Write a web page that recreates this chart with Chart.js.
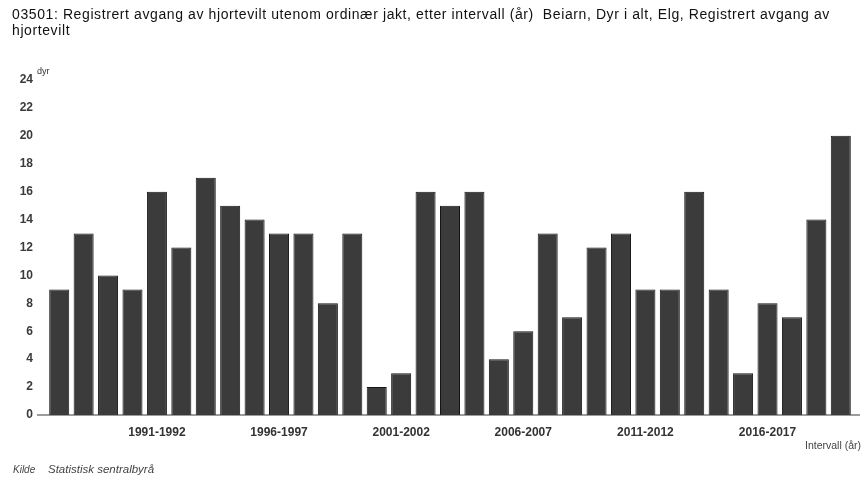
<!DOCTYPE html>
<html>
<head>
<meta charset="utf-8">
<script src="https://cdn.jsdelivr.net/npm/chart.js@4"></script>
<style>
  html, body { margin: 0; padding: 0; background: #fff; }
  #wrap { position: relative; width: 864px; height: 479px; }
</style>
</head>
<body>
<div id="wrap"><canvas id="elgChart" width="864" height="479"></canvas></div>
<script>
const intervals = [
    '1987-1988', '1988-1989', '1989-1990', '1990-1991', '1991-1992', '1992-1993',
    '1993-1994', '1994-1995', '1995-1996', '1996-1997', '1997-1998', '1998-1999',
    '1999-2000', '2000-2001', '2001-2002', '2002-2003', '2003-2004', '2004-2005',
    '2005-2006', '2006-2007', '2007-2008', '2008-2009', '2009-2010', '2010-2011',
    '2011-2012', '2012-2013', '2013-2014', '2014-2015', '2015-2016', '2016-2017',
    '2017-2018', '2018-2019', '2019-2020'
];
const avgang = [9, 13, 10, 9, 16, 12, 17, 15, 14, 13, 13, 8, 13, 2, 3, 16, 15, 16, 4, 6, 13, 7, 12, 13, 9, 9, 16, 9, 3, 8, 7, 14, 20];
const yTicks = [0, 2, 4, 6, 8, 10, 12, 14, 16, 18, 20, 22, 24];

const titleLines = [
    '03501: Registrert avgang av hjortevilt utenom ordinær jakt, etter intervall (år)  Beiarn, Dyr i alt, Elg, Registrert avgang av',
    'hjortevilt'
];
const FONT = '"Liberation Sans", Arial, sans-serif';

// title, unit, source text and a baseline that runs a bit past the bars
const extras = {
    id: 'extras',
    afterDraw(chart) {
        const ctx = chart.ctx;
        const y0 = chart.scales.y.getPixelForValue(0);
        ctx.save();
        ctx.strokeStyle = '#3a3a3a';
        ctx.lineWidth = 1.2;
        ctx.beginPath();
        ctx.moveTo(37, y0);
        ctx.lineTo(860, y0);
        ctx.stroke();

        ctx.textBaseline = 'alphabetic';
        ctx.fillStyle = '#111';
        ctx.font = '14px ' + FONT;
        if ('letterSpacing' in ctx) ctx.letterSpacing = '0.6px';
        ctx.fillText(titleLines[0], 12, 19);
        ctx.fillText(titleLines[1], 12, 35);
        if ('letterSpacing' in ctx) ctx.letterSpacing = '0px';

        ctx.textBaseline = 'middle';
        ctx.fillStyle = '#333';
        ctx.font = '9px ' + FONT;
        ctx.fillText('dyr', 37, 72);

        ctx.fillStyle = '#444';
        ctx.font = '10.5px ' + FONT;
        ctx.textAlign = 'right';
        ctx.fillText('Intervall (år)', 861, 446);

        ctx.textAlign = 'left';
        ctx.font = 'italic 10px ' + FONT;
        ctx.fillText('Kilde', 13, 470);
        ctx.font = 'italic 11.5px ' + FONT;
        ctx.fillText('Statistisk sentralbyrå', 48, 470);
        ctx.restore();
    }
};

new Chart(document.getElementById('elgChart').getContext('2d'), {
    type: 'bar',
    data: {
        labels: intervals,
        datasets: [{
            label: 'Registrert avgang av hjortevilt',
            data: avgang,
            backgroundColor: '#3b3b3b',
            borderColor: '#151515',
            borderWidth: 1,
            barPercentage: 0.82,
            categoryPercentage: 1
        }]
    },
    options: {
        responsive: false,
        animation: false,
        layout: { padding: { left: 0, right: 11, top: 80, bottom: 22 } },
        plugins: {
            legend: { display: false },
            tooltip: { enabled: false },
            title: { display: false }
        },
        scales: {
            x: {
                grid: { display: false, drawTicks: false },
                border: { display: false },
                ticks: {
                    autoSkip: false,
                    maxRotation: 0,
                    padding: 10,
                    color: '#333',
                    font: { family: FONT, size: 12, weight: 'bold' },
                    callback: function(val, i) {
                        return (i - 4) % 5 === 0 ? intervals[i] : '';
                    }
                },
                afterFit(scale) { scale.height = 42; }
            },
            y: {
                min: 0,
                max: 24,
                afterBuildTicks(scale) { scale.ticks = yTicks.map(v => ({ value: v })); },
                grid: { display: false, drawTicks: false },
                border: { display: false },
                ticks: {
                    padding: 14,
                    color: '#3a3a3a',
                    font: { family: FONT, size: 12, weight: 'bold' }
                },
                afterFit(scale) { scale.width = 47; }
            }
        }
    },
    plugins: [extras]
});
</script>
</body>
</html>
